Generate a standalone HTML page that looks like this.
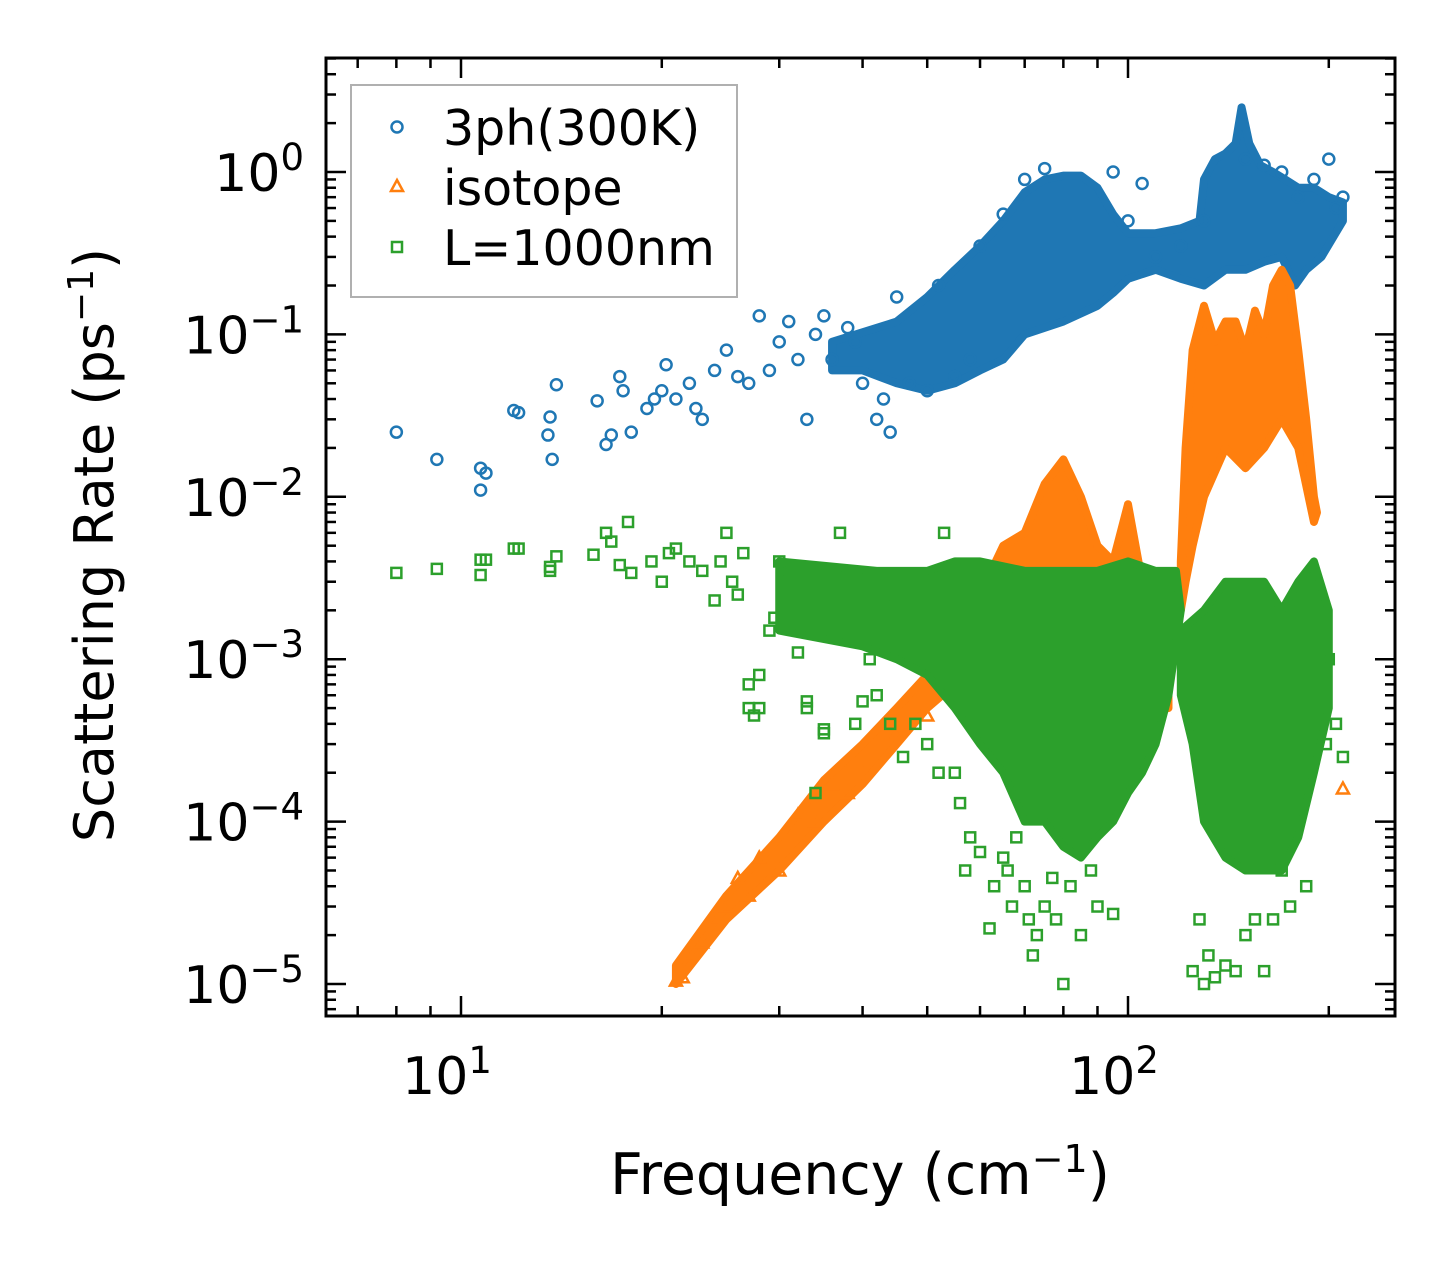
<!DOCTYPE html>
<html><head><meta charset="utf-8">
<style>
body{margin:0;background:#fff;}
svg{display:block;font-family:"DejaVu Sans","Liberation Sans",sans-serif;}
</style></head>
<body>
<svg id="chart" width="1455" height="1265" viewBox="0 0 1455 1265" xmlns="http://www.w3.org/2000/svg">
<rect width="1455" height="1265" fill="#fff"/>
<g id="marks"></g>
<g id="axes"></g>
<text x="0" y="0" transform="translate(113,545) rotate(-90)" text-anchor="middle" font-size="54">Scattering Rate (ps<tspan baseline-shift="super" font-size="36">−1</tspan>)</text>
<text x="860" y="1194" text-anchor="middle" font-size="57">Frequency (cm<tspan baseline-shift="super" font-size="38">−1</tspan>)</text>
<g>
<rect x="351" y="85" width="386" height="212" fill="#fff" stroke="#b0b0b0" stroke-width="2"/>
<g>
<circle cx="397" cy="127" r="5.5" fill="none" stroke="#1f77b4" stroke-width="2.5"/>
<text x="443" y="145" font-size="49">3ph(300K)</text></g>
<g>
<polygon points="397,180 403,191 391,191" fill="none" stroke="#ff7f0e" stroke-width="2.5"/>
<text x="443" y="205" font-size="49">isotope</text></g>
<g>
<rect x="392" y="242" width="10" height="10" fill="none" stroke="#2ca02c" stroke-width="2.5"/>
<text x="443" y="265" font-size="49">L=1000nm</text></g>
</g>
</svg>
<script>
// ---- data ----
const blueFreq=[8,9.2,10.7,10.7,10.9,12,12.2,13.5,13.6,13.7,13.9,16,16.5,16.8,17.3,17.5,18,19,19.5,20,20.3,21,22,22.5,23,24,25,26,27,28,29,30,31,32,33,34,35,36,38,39,40,42,43,44,45,47,50,52,55,58,60,65,70,75,95,100,105,110,120,130,150,160,170,180,190,200,205,210];
const blueRate=[0.025,0.017,0.015,0.011,0.014,0.034,0.033,0.024,0.031,0.017,0.049,0.039,0.021,0.024,0.055,0.045,0.025,0.035,0.04,0.045,0.065,0.04,0.05,0.035,0.03,0.06,0.08,0.055,0.05,0.13,0.06,0.09,0.12,0.07,0.03,0.1,0.13,0.07,0.11,0.09,0.05,0.03,0.04,0.025,0.17,0.05,0.045,0.2,0.055,0.07,0.35,0.55,0.9,1.05,1.0,0.5,0.85,0.3,0.35,0.5,1.2,1.1,1.0,0.7,0.9,1.2,0.6,0.7];
const blueEnvFreq=[36,45,50,55,60,65,70,75,80,85,90,95,100,110,120,128,130,135,140,145,148,152,158,165,172,180,190,200,210,210,195,185,178,170,160,150,140,130,120,110,100,95,90,80,70,65,60,55,50,45,40,36];
const blueEnvRate=[0.09,0.12,0.17,0.25,0.35,0.5,0.75,0.9,0.95,0.95,0.8,0.55,0.42,0.42,0.45,0.5,0.9,1.2,1.3,1.5,2.5,1.5,1.1,1.0,0.9,0.8,0.8,0.7,0.65,0.5,0.3,0.25,0.2,0.3,0.28,0.25,0.25,0.2,0.22,0.25,0.22,0.18,0.15,0.12,0.1,0.07,0.06,0.05,0.045,0.05,0.06,0.06];
const orangeFreq=[21,21.5,22,23,24,25,26,27,28,30,32,34,36,38,40,45,50,190,210];
const orangeRate=[1.05e-5,1.1e-5,1.5e-5,1.8e-5,2.5e-5,3e-5,4.5e-5,3.5e-5,6e-5,5e-5,1.1e-4,1e-4,1.7e-4,1.5e-4,2e-4,3.5e-4,4.5e-4,1e-3,1.6e-4];
const orangeEnvFreq=[21,25,30,35,40,45,50,55,60,65,70,75,80,85,90,95,100,105,110,112,115,115,110,100,90,80,70,60,55,50,45,40,35,30,25,21];
const orangeEnvRate=[1.3e-5,3.5e-5,8e-5,1.8e-4,3e-4,5e-4,8e-4,1.2e-3,2.5e-3,5e-3,6e-3,1.2e-2,1.7e-2,1e-2,5e-3,4e-3,9e-3,3e-3,2e-3,1e-3,6e-4,5e-4,5e-4,8e-4,1e-3,1e-3,1e-3,1e-3,7e-4,5e-4,3e-4,1.7e-4,1e-4,5e-5,2.5e-5,1e-5];
const orange2EnvFreq=[120,122,125,130,135,140,145,150,155,160,165,170,175,180,185,190,192,190,180,170,160,150,140,130,125,122,120];
const orange2EnvRate=[4e-3,0.02,0.08,0.15,0.09,0.12,0.12,0.08,0.14,0.1,0.2,0.25,0.2,0.08,0.03,0.01,0.008,0.007,0.02,0.03,0.02,0.015,0.02,0.01,0.005,0.003,2e-3];
const greenFreq=[8,9.2,10.7,10.7,10.9,12,12.2,13.6,13.6,13.9,15.8,16.5,16.8,17.3,17.8,18,19.3,20,20.5,21,22,23,24,24.5,25,25.5,26,26.5,27,27,27.5,28,28,29,29.5,30,31,32,33,33,34,35,35,36,37,38,39,40,41,42,43,44,46,48,50,52,53,55,56,57,58,60,62,63,65,66,67,68,70,71,72,73,75,77,78,80,82,85,88,90,95,125,128,130,132,135,140,145,150,155,160,165,170,175,185,195,198,200,205,210];
const greenRate=[3.4e-3,3.6e-3,4.1e-3,3.3e-3,4.1e-3,4.8e-3,4.8e-3,3.7e-3,3.5e-3,4.3e-3,4.4e-3,6e-3,5.3e-3,3.8e-3,7e-3,3.4e-3,4e-3,3e-3,4.5e-3,4.8e-3,4e-3,3.5e-3,2.3e-3,4e-3,6e-3,3e-3,2.5e-3,4.5e-3,7e-4,5e-4,4.5e-4,8e-4,5e-4,1.5e-3,1.8e-3,4e-3,3e-3,1.1e-3,5.5e-4,5e-4,1.5e-4,3.5e-4,3.7e-4,2e-3,6e-3,1.8e-3,4e-4,5.5e-4,1e-3,6e-4,2.5e-3,4e-4,2.5e-4,4e-4,3e-4,2e-4,6e-3,2e-4,1.3e-4,5e-5,8e-5,6.5e-5,2.2e-5,4e-5,6e-5,5e-5,3e-5,8e-5,4e-5,2.5e-5,1.5e-5,2e-5,3e-5,4.5e-5,2.5e-5,1e-5,4e-5,2e-5,5e-5,3e-5,2.7e-5,1.2e-5,2.5e-5,1e-5,1.5e-5,1.1e-5,1.3e-5,1.2e-5,2e-5,2.5e-5,1.2e-5,2.5e-5,5e-5,3e-5,4e-5,4e-4,3e-4,1e-3,4e-4,2.5e-4];
const greenEnvFreq=[30,42,50,55,60,70,80,90,100,110,118,120,115,110,105,100,95,90,85,80,75,70,65,60,55,50,45,40,30];
const greenEnvRate=[4e-3,3.5e-3,3.5e-3,4e-3,4e-3,3.5e-3,3.5e-3,3.5e-3,4e-3,3.5e-3,3.5e-3,2e-3,6e-4,3e-4,2e-4,1.5e-4,1e-4,8e-5,6e-5,7e-5,1e-4,1e-4,2e-4,3e-4,5e-4,8e-4,1e-3,1.2e-3,1.5e-3];
const green2EnvFreq=[120,130,140,150,160,170,180,190,200,200,190,180,170,160,150,140,130,125,120];
const green2EnvRate=[1.5e-3,2e-3,3e-3,3e-3,3e-3,2e-3,3e-3,4e-3,2e-3,5e-4,2e-4,8e-5,5e-5,5e-5,5e-5,6e-5,1e-4,3e-4,6e-4];
const xTickVals=[10,100];
const xTickLabels=["10","10"];
const xTickExp=["1","2"];
const yTickVals=[1,0.1,0.01,0.001,1e-4,1e-5];
const yTickExp=["0","−1","−2","−3","−4","−5"];

// ---- axes ----
const L=326,R=1395,T=58,B=1016;
const xmin=0.7976,xmax=2.4003,ymin=-5.197,ymax=0.702;
const X=v=>L+(Math.log10(v)-xmin)/(xmax-xmin)*(R-L);
const Y=v=>B-(Math.log10(v)-ymin)/(ymax-ymin)*(B-T);
const NS="http://www.w3.org/2000/svg";
const marks=document.getElementById('marks'),axes=document.getElementById('axes');
function mk(tag,attrs,parent){const e=document.createElementNS(NS,tag);for(const k in attrs)e.setAttribute(k,attrs[k]);parent.appendChild(e);return e;}
function env(fs,rs,color,name){
  const p=mk('polygon',{points:fs.map((f,i)=>X(f)+','+Y(rs[i])).join(' '),fill:color,stroke:color,'stroke-width':8,'stroke-linejoin':'round'},marks);
  
  
}
function pts(fs,rs,color,shape,name){
  fs.forEach((f,i)=>{const x=X(f),y=Y(rs[i]);let e;
    if(shape==='c')e=mk('circle',{cx:x,cy:y,r:5.5,fill:'none',stroke:color,'stroke-width':2.5},marks);
    else if(shape==='t')e=mk('polygon',{points:`${x},${y-6} ${x+6},${y+5} ${x-6},${y+5}`,fill:'none',stroke:color,'stroke-width':2.5},marks);
    else e=mk('rect',{x:x-5,y:y-5,width:10,height:10,fill:'none',stroke:color,'stroke-width':2.5},marks);
    
    
  });
}
env(blueEnvFreq,blueEnvRate,'#1f77b4','3ph-dense-region');
pts(blueFreq,blueRate,'#1f77b4','c','3ph-point');
env(orangeEnvFreq,orangeEnvRate,'#ff7f0e','isotope-dense-region');
env(orange2EnvFreq,orange2EnvRate,'#ff7f0e','isotope-dense-region-high');
pts(orangeFreq,orangeRate,'#ff7f0e','t','isotope-point');
env(greenEnvFreq,greenEnvRate,'#2ca02c','boundary-dense-region');
env(green2EnvFreq,green2EnvRate,'#2ca02c','boundary-dense-region-high');
pts(greenFreq,greenRate,'#2ca02c','s','boundary-point');

const fr=mk('rect',{x:L,y:T,width:R-L,height:B-T,fill:'none',stroke:'#000','stroke-width':3},axes);


for(let d=0;d<=2;d++)for(let m=1;m<10;m++){const v=m*Math.pow(10,d);const lv=Math.log10(v);if(lv<xmin||lv>xmax)continue;
  const x=X(v),len=m===1?20:10;
  mk('line',{x1:x,y1:B,x2:x,y2:B-len,stroke:'#000','stroke-width':2.5},axes);
  mk('line',{x1:x,y1:T,x2:x,y2:T+len,stroke:'#000','stroke-width':2.5},axes);}
for(let d=-6;d<=0;d++)for(let m=1;m<10;m++){const v=m*Math.pow(10,d);const lv=Math.log10(v);if(lv<ymin||lv>ymax)continue;
  const y=Y(v),len=m===1?20:10;
  mk('line',{x1:L,y1:y,x2:L+len,y2:y,stroke:'#000','stroke-width':2.5},axes);
  mk('line',{x1:R,y1:y,x2:R-len,y2:y,stroke:'#000','stroke-width':2.5},axes);}
xTickVals.forEach((v,i)=>{const t=mk('text',{x:X(v)-14,y:1094,'text-anchor':'middle','font-size':52},axes);
  t.innerHTML=xTickLabels[i]+'<tspan baseline-shift="super" font-size="37">'+xTickExp[i]+'</tspan>';
  
  });
yTickVals.forEach((v,i)=>{const t=mk('text',{x:304,y:Y(v)+19,'text-anchor':'end','font-size':52},axes);
  t.innerHTML='10<tspan baseline-shift="super" font-size="37">'+yTickExp[i]+'</tspan>';
  
  });
</script>
</body></html>
